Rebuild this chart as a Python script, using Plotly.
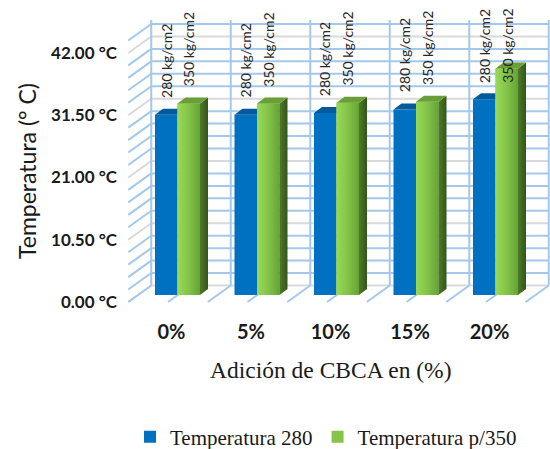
import plotly.graph_objects as go

# ---- data -----------------------------------------------------------------
categories = ["0%", "5%", "10%", "15%", "20%"]
temp_280 = [30.4, 30.4, 30.7, 31.3, 33.0]   # Temperatura 280 (°C)
temp_350 = [32.3, 32.3, 32.4, 32.6, 38.2]   # Temperatura p/350 (°C)
series_names = ["Temperatura 280", "Temperatura p/350"]
point_labels = ["280 kg/cm2", "350 kg/cm2"]
y_ticks = [0, 10.5, 21, 31.5, 42]
y_ticktext = [f"{v:.2f} °C" for v in y_ticks]
minor_per_major = 5
x_title = "Adición de CBCA en (%)"
y_title = "Temperatura (° C)"

# ---- page geometry (px) ---------------------------------------------------
W, H = 550, 449
ML, MR, MT, MB = 120, 0, 8, 137
CAT_PX = 79.5          # pixels per category
X0_PX = 177.5          # page x of the first category centre (bar plane)
VAL_PX = 5.93          # pixels per degree
ZERO_PX = 295.0        # page y of zero (bar plane)
PLOT_W = W - ML - MR
PLOT_H = H - MT - MB

x_range = [(ML - X0_PX) / CAT_PX, (W - MR - X0_PX) / CAT_PX]
y_range = [(ZERO_PX - (H - MB)) / VAL_PX, (ZERO_PX - MT) / VAL_PX]


def ux(px):
    return px / CAT_PX


def uy(px):
    return px / VAL_PX


def paper_x(px):
    return (px - ML) / PLOT_W


def paper_y(px):
    return (H - MB - px) / PLOT_H


# oblique depth offsets, relative to the bars' front faces
BACK = (ux(13.5), uy(9.5))     # back wall
FRONT = (ux(-9.5), uy(-7.0))   # front edge of floor / side wall
DEPTH = (ux(8.0), uy(6.0))     # thickness of each column
WALL_TOP = uy(ZERO_PX - 20)

BLUE = "#0070C0"
BLUE_TOP = "#005A9C"
GREEN = "#84C448"
GREEN_TOP = "#6A9E36"
GRID_MINOR = "#A4C8EA"
GRID_MAJOR = "#D9D9D9"
TEXT = "#1a1a1a"

bar_w = 0.283
xs = list(range(len(categories)))

fig = go.Figure()

# ---- front faces -----------------------------------------------------------
fig.add_bar(x=xs, y=temp_280, width=bar_w, offset=-bar_w, name=series_names[0],
            marker=dict(color=BLUE, line=dict(width=0)), hoverinfo="x+y")
fig.add_bar(x=xs, y=temp_350, width=bar_w, offset=0, name=series_names[1],
            marker=dict(color=GREEN, line=dict(width=0)), hoverinfo="x+y")


def poly(xp, yp, **kw):
    fig.add_scatter(x=xp + [xp[0]], y=yp + [yp[0]], mode="lines", fill="toself",
                    line=dict(width=0), hoverinfo="skip", showlegend=False, **kw)


dx, dy = DEPTH
for i, (v1, v2) in enumerate(zip(temp_280, temp_350)):
    # blue column: top cap (its right part sits behind the green column)
    xl, xr = i - bar_w, i
    poly([xl, xr, xr, xl + dx], [v1, v1, v1 + dy, v1 + dy], fillcolor=BLUE_TOP)
    # green column: shaded front, side face and top cap
    xl, xr = i, i + bar_w
    poly([xl, xr, xr, xl], [0, 0, v2, v2],
         fillgradient=dict(type="horizontal",
                           colorscale=[[0, "#9AD957"], [0.55, "#80C046"], [1, "#66A337"]]))
    poly([xr, xr + dx, xr + dx, xr], [0, dy, v2 + dy, v2],
         fillgradient=dict(type="horizontal",
                           colorscale=[[0, "#4E7B27"], [1, "#33551B"]]))
    poly([xl, xr, xr + dx, xl + dx], [v2, v2, v2 + dy, v2 + dy], fillcolor=GREEN_TOP)

# ---- walls and floor ---------------------------------------------------------
shapes = []
bx, by = BACK
fx, fy = FRONT
left = -0.5
right = len(categories) - 0.5
minor_step = (y_ticks[1] - y_ticks[0]) / minor_per_major
n_lines = int(round((y_ticks[-1] + minor_step) / minor_step)) + 1
for k in range(n_lines):
    v = k * minor_step
    col = GRID_MAJOR if k % minor_per_major == 0 else GRID_MINOR
    # back wall
    shapes.append(dict(type="line", xref="x", yref="y", layer="below",
                       x0=left + bx, x1=right + bx, y0=v + by, y1=v + by,
                       line=dict(color=col, width=2)))
    # side wall
    shapes.append(dict(type="line", xref="x", yref="y", layer="below",
                       x0=left + fx, x1=left + bx, y0=v + fy, y1=v + by,
                       line=dict(color=col, width=2)))
for j in range(len(categories) + 1):
    shapes.append(dict(type="line", xref="x", yref="y", layer="below",
                       x0=left + j + bx, x1=left + j + bx, y0=by, y1=WALL_TOP,
                       line=dict(color=GRID_MINOR, width=2)))
for j in range(2 * len(categories) + 1):
    xx = left + 0.5 * j
    shapes.append(dict(type="line", xref="x", yref="y", layer="below",
                       x0=xx + fx, x1=xx + bx, y0=fy, y1=by,
                       line=dict(color=GRID_MINOR, width=2)))

# ---- point labels --------------------------------------------------------------
LABEL_GAP = uy(15)
LABEL_CEIL = uy(ZERO_PX - 85)
annotations = []
for i, (v1, v2) in enumerate(zip(temp_280, temp_350)):
    for xc, v, txt in ((i - bar_w / 2, v1, point_labels[0]),
                       (i + bar_w / 2, v2, point_labels[1])):
        annotations.append(dict(x=xc, y=min(v + LABEL_GAP, LABEL_CEIL), xref="x", yref="y",
                                text=txt, textangle=-90, showarrow=False,
                                xanchor="center", yanchor="bottom",
                                font=dict(family="Lato", size=14, color="#262626")))

# ---- axis titles ---------------------------------------------------------------
annotations.append(dict(x=paper_x(27), y=paper_y(171), xref="paper", yref="paper",
                        text=y_title, textangle=-90, showarrow=False,
                        xanchor="center", yanchor="middle",
                        font=dict(family="Lato", size=23, color=TEXT)))
annotations.append(dict(x=paper_x(331), y=paper_y(370), xref="paper", yref="paper",
                        text=x_title, showarrow=False,
                        xanchor="center", yanchor="middle",
                        font=dict(family="Liberation Serif", size=23.5, color=TEXT)))

fig.update_layout(
    width=W, height=H,
    margin=dict(l=ML, r=MR, t=MT, b=MB, autoexpand=False),
    paper_bgcolor="white", plot_bgcolor="white",
    barmode="overlay",
    showlegend=True,
    shapes=shapes,
    annotations=annotations,
    xaxis=dict(range=x_range, tickmode="array", tickvals=xs, ticktext=categories,
               showgrid=False, zeroline=False, showline=False, ticks="",
               ticklabelshift=-6, ticklabelstandoff=6,
               tickfont=dict(family="Lato", size=20, color=TEXT, weight="bold")),
    yaxis=dict(range=y_range, showgrid=False, zeroline=False, showline=False,
               showticklabels=False, ticks=""),
    yaxis2=dict(overlaying="y", side="left",
                range=[y_range[0] - fy, y_range[1] - fy],
                tickmode="array", tickvals=y_ticks, ticktext=y_ticktext,
                showgrid=False, zeroline=False, showline=False, ticks="",
                ticklabelstandoff=2,
                tickfont=dict(family="Lato", size=17, color=TEXT, weight="bold")),
    legend=dict(orientation="h", x=paper_x(326), xanchor="center", y=paper_y(437),
                yanchor="middle",
                font=dict(family="Liberation Serif", size=21, color=TEXT),
                bgcolor="rgba(0,0,0,0)"),
)

# a placeholder trace keeps yaxis2 (the label axis) alive
fig.add_scatter(x=[None], y=[None], yaxis="y2", showlegend=False, hoverinfo="skip")

fig.write_html("out.html")
